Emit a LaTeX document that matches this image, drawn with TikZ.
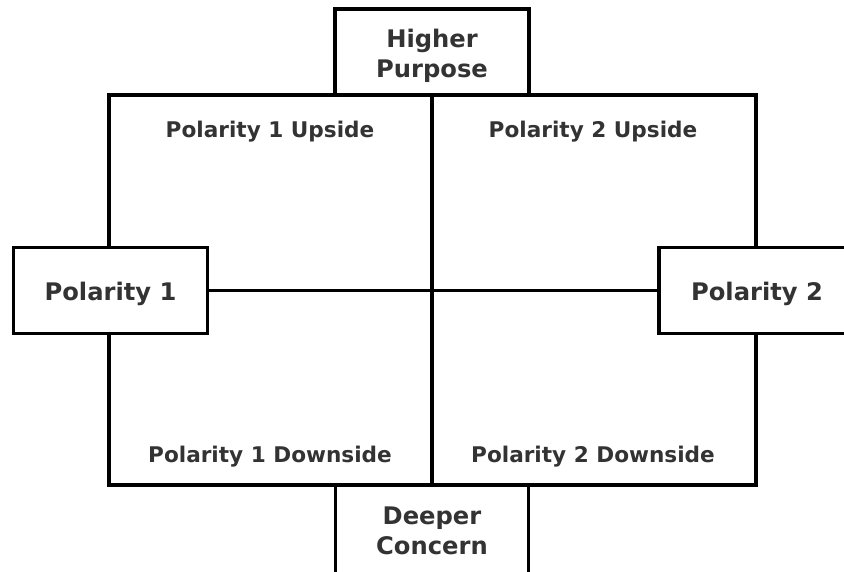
\documentclass[tikz,border=0pt]{standalone}
\usepackage{fontspec}
\setmainfont{DejaVu Sans}
\definecolor{txt}{HTML}{333333}
\newcommand{\lwr}[2]{\raisebox{-#1}[\height][\depth]{#2}}
\begin{document}
\begin{tikzpicture}[x=1pt,y=-1pt,
  frame/.style={draw=black, line width=3.8pt},
  box/.style={draw=black, fill=white, line width=3.8pt, text=txt, align=center,
    font=\bfseries\fontsize{24.2}{29.5}\selectfont, inner sep=0pt},
  sub/.style={text=txt, font=\bfseries\fontsize{21.6}{24}\selectfont, inner sep=0pt}]
\useasboundingbox (0,0) rectangle (844,571);
\clip (0,0) rectangle (844,571);
% main frame
\coordinate (ftl) at (109,95);
\coordinate (fbr) at (756,485);
\draw[frame] (ftl) rectangle (fbr);
% boxes
\node[box, minimum width=194pt, minimum height=86pt] (hp) at (432,52)
  {\lwr{4pt}{\parbox{180pt}{\centering Higher\\Purpose}}};
\node[box, minimum width=194pt, minimum height=86pt] (p1) at (110.5,290.5) {\lwr{3.5pt}{Polarity 1}};
\node[box, minimum width=196pt, minimum height=86pt] (p2) at (757,290.5) {\lwr{3.5pt}{Polarity 2}};
\node[box, minimum width=193pt, minimum height=92pt] (dc) at (432,531)
  {\parbox{180pt}{\centering Deeper\\Concern}};
% cross
\draw[frame] (hp.south) -- (dc.north);
\draw[frame] (p1.east) -- (p2.west);
% quadrant labels
\node[sub] (u1) at (270,132) {Polarity 1 Upside};
\node[sub] (u2) at (593,132) {Polarity 2 Upside};
\node[sub] (d1) at (270,457) {Polarity 1 Downside};
\node[sub] (d2) at (593,457) {Polarity 2 Downside};
\end{tikzpicture}
\end{document}
